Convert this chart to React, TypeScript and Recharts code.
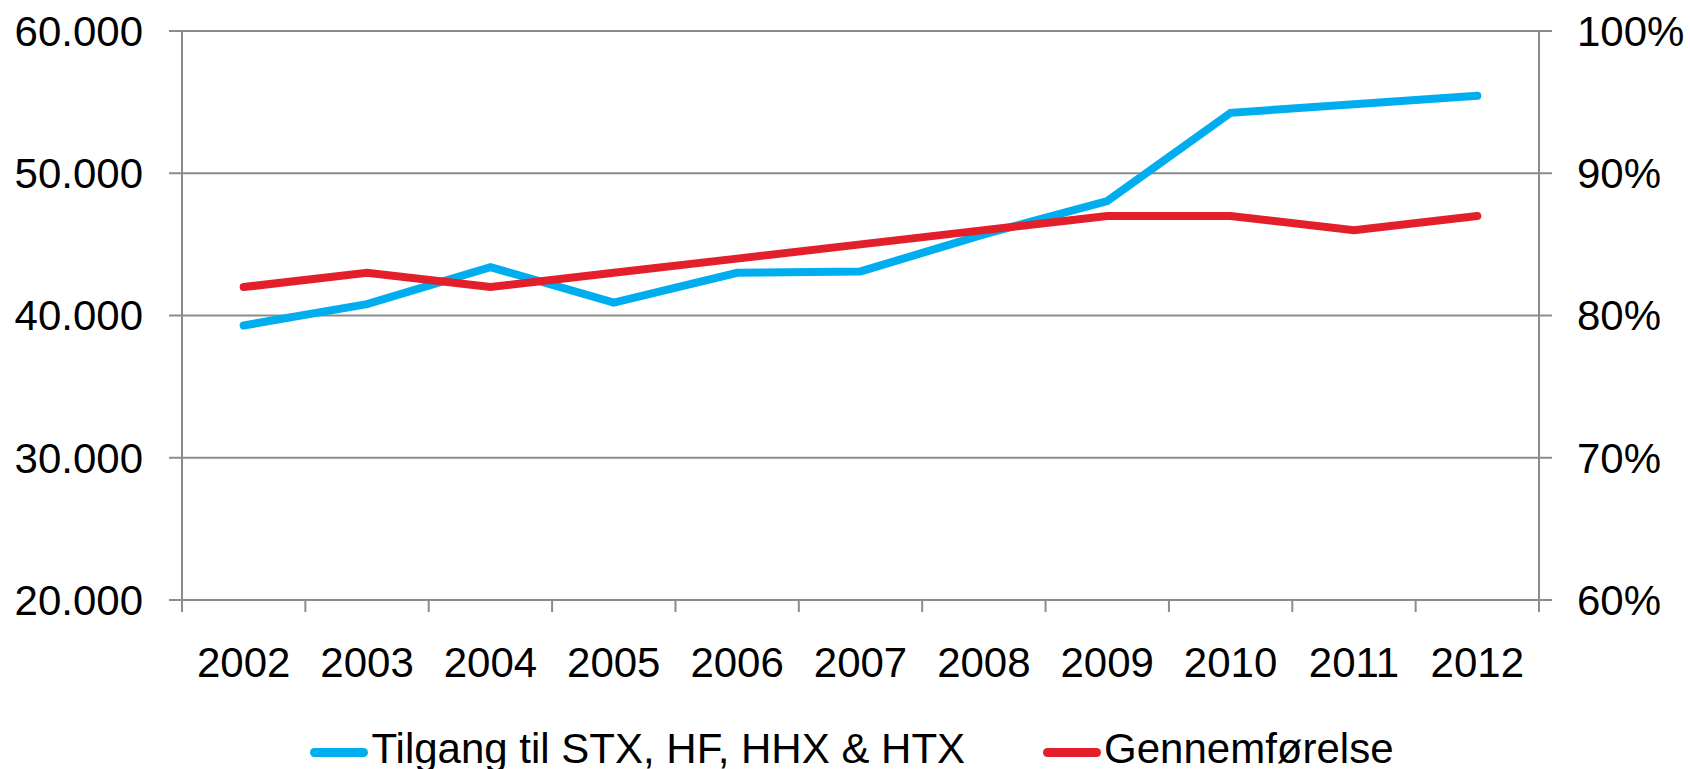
import { LineChart, Line, XAxis, YAxis, CartesianGrid, Legend } from 'recharts';

const years = ['2002', '2003', '2004', '2005', '2006', '2007', '2008', '2009', '2010', '2011', '2012'];
const tilgang = [39300, 40800, 43400, 40900, 43000, 43100, 45700, 48050, 54250, 54850, 55450];
const gennemfoerelse = [82, 83, 82, 83, 84, 85, 86, 87, 87, 86, 87];
const leftTicks = [20000, 30000, 40000, 50000, 60000];
const rightTicks = [60, 70, 80, 90, 100];

const seriesNames = ['Tilgang til STX, HF, HHX & HTX', 'Gennemførelse'];
const BLUE = '#00AEEF';
const RED = '#E21F2B';
const GRID = '#8C8C8C';
const FONT = '"Liberation Sans", Arial, sans-serif';

const W = 1690;
const H = 769;
const LEFT_W = 182;
const RIGHT_W = 151;
const HALF_BAND = (W - LEFT_W - RIGHT_W) / years.length / 2;
const TICK = 12;
const TICK_MARGIN = 35;

const data = years.map((year, i) => ({
  i,
  year,
  tilgang: tilgang[i],
  gennemfoerelse: gennemfoerelse[i],
}));

const fmtThousands = (v: number) => String(v).replace(/\B(?=(\d{3})+(?!\d))/g, '.');

function YearTick(props: any) {
  const { x, y, payload, index } = props;
  const axisY = y - TICK - TICK_MARGIN;
  const last = index === years.length - 1;
  return (
    <g>
      <line x1={x - HALF_BAND} x2={x - HALF_BAND} y1={axisY} y2={axisY + TICK} stroke={GRID} strokeWidth={2} />
      {last && (
        <line x1={x + HALF_BAND} x2={x + HALF_BAND} y1={axisY} y2={axisY + TICK} stroke={GRID} strokeWidth={2} />
      )}
      <text x={x} y={y} dy="0.71em" textAnchor="middle" fill="#000" fontSize={42} fontFamily={FONT}>
        {years[payload.value]}
      </text>
    </g>
  );
}

function LegendContent() {
  const items = [
    { name: seriesNames[0], color: BLUE },
    { name: seriesNames[1], color: RED },
  ];
  return (
    <div
      style={{
        display: 'flex',
        justifyContent: 'center',
        alignItems: 'center',
        gap: 78,
        paddingLeft: 14,
        height: 40,
        lineHeight: '40px',
        fontFamily: FONT,
        fontSize: 42,
        color: '#000',
        whiteSpace: 'nowrap',
      }}
    >
      {items.map((it) => (
        <div key={it.name} style={{ display: 'flex', alignItems: 'center' }}>
          <span
            style={{
              display: 'inline-block',
              width: 58,
              height: 9,
              borderRadius: 5,
              background: it.color,
              marginRight: 3,
              marginTop: 6,
            }}
          />
          <span>{it.name}</span>
        </div>
      ))}
    </div>
  );
}

export default function App() {
  const tickStyle = { fontSize: 42, fill: '#000', fontFamily: FONT };
  return (
    <div style={{ width: W, height: H, background: '#fff' }}>
      <style>{'body{margin:0;overflow:hidden}'}</style>
      <LineChart width={W} height={H} data={data} margin={{ top: 31, right: 0, bottom: 0, left: 0 }}>
        <CartesianGrid yAxisId="left" vertical={false} stroke={GRID} strokeWidth={2} />
        <XAxis
          dataKey="i"
          type="number"
          domain={[-0.5, years.length - 0.5]}
          ticks={years.map((_, i) => i)}
          interval={0}
          height={129}
          tickLine={false}
          tickSize={TICK}
          tickMargin={TICK_MARGIN}
          axisLine={{ stroke: GRID, strokeWidth: 2 }}
          tick={<YearTick />}
        />
        <YAxis
          yAxisId="left"
          width={LEFT_W}
          domain={[20000, 60000]}
          ticks={leftTicks}
          interval={0}
          tickFormatter={fmtThousands}
          tickSize={13}
          tickMargin={26}
          tickLine={{ stroke: GRID, strokeWidth: 2 }}
          axisLine={{ stroke: GRID, strokeWidth: 2 }}
          tick={tickStyle}
        />
        <YAxis
          yAxisId="right"
          orientation="right"
          width={RIGHT_W}
          domain={[60, 100]}
          ticks={rightTicks}
          interval={0}
          tickFormatter={(v: number) => `${v}%`}
          tickSize={13}
          tickMargin={25}
          tickLine={{ stroke: GRID, strokeWidth: 2 }}
          axisLine={{ stroke: GRID, strokeWidth: 2 }}
          tick={tickStyle}
        />
        <Legend verticalAlign="bottom" height={40} content={<LegendContent />} />
        <Line
          yAxisId="left"
          name={seriesNames[0]}
          dataKey="tilgang"
          type="linear"
          stroke={BLUE}
          strokeWidth={8}
          strokeLinecap="round"
          dot={false}
          activeDot={false}
          isAnimationActive={false}
        />
        <Line
          yAxisId="right"
          name={seriesNames[1]}
          dataKey="gennemfoerelse"
          type="linear"
          stroke={RED}
          strokeWidth={8}
          strokeLinecap="round"
          dot={false}
          activeDot={false}
          isAnimationActive={false}
        />
      </LineChart>
    </div>
  );
}
